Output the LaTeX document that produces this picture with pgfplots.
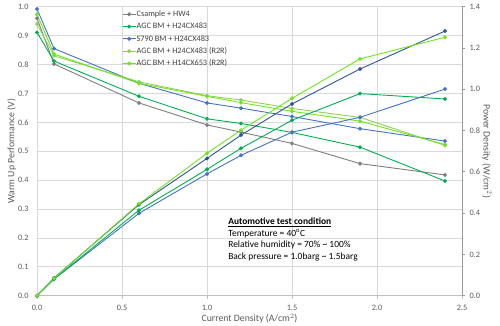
\documentclass[border=0pt]{standalone}
\usepackage{fontspec}
\setmainfont{Carlito}
\usepackage{pgfplots}
\pgfplotsset{compat=1.18}
\definecolor{cgray}{HTML}{7F7F7F}
\definecolor{cgreen}{HTML}{00B050}
\definecolor{cblue}{HTML}{4472C4}
\definecolor{cdblue}{HTML}{2F5597}
\definecolor{clgreen}{HTML}{92D050}
\definecolor{cbgreen}{HTML}{6EE61E}
\definecolor{gridc}{HTML}{D9D9D9}
\definecolor{axc}{HTML}{BFBFBF}
\definecolor{tickc}{HTML}{595959}
\definecolor{legc}{HTML}{404040}

\pgfplotstableread{
x     gv    grv   bv    lv    bgv
0.0   0.960 0.911 0.992 0.940 0.974
0.1   0.802 0.812 0.855 0.830 0.836
0.6   0.667 0.690 0.735 0.740 0.735
1.0   0.591 0.612 0.667 0.692 0.690
1.2   0.566 0.596 0.649 0.677 0.668
1.5   0.527 0.565 0.620 0.648 0.638
1.9   0.457 0.514 0.578 0.617 0.604
2.4   0.418 0.397 0.535 0.520 0.523
}\voltdata

\pgfplotstableread{
x     gp    grp   bp    bgp
0.0   0.000 0.000 0.000 0.000
0.1   0.080 0.081 0.086 0.084
0.6   0.399 0.414 0.441 0.445
1.0   0.590 0.612 0.665 0.690
1.2   0.680 0.714 0.778 0.802
1.5   0.792 0.850 0.929 0.956
1.9   0.864 0.979 1.098 1.147
2.4   1.001 0.953 1.282 1.252
}\powdata

\begin{document}
\begin{tikzpicture}
\path[use as bounding box] (0,0) rectangle (500bp,326bp);
\begin{axis}[
  at={(37bp,30.3bp)}, anchor=south west,
  scale only axis, width=425bp, height=289bp,
  xmin=0, xmax=2.5, ymin=0, ymax=1.0,
  xtick={0,0.5,...,2.5}, ytick={0,0.1,...,1.0},
  clip=false,
  axis x line*=bottom, axis y line*=left,
  x axis line style={draw=axc, line width=0.75bp, -},
  y axis line style={draw=none},
  grid=major, major grid style={draw=gridc, line width=0.75bp},
  tick align=outside,
  xtick style={draw=axc, line width=0.75bp}, major tick length=3bp,
  ytick style={draw=none},
  tick label style={font=\fontsize{8.3}{10}\selectfont, text=tickc},
  /pgf/number format/assume math mode=true,
  xticklabel={\pgfmathprintnumber[fixed,fixed zerofill,precision=1]{\tick}},
  yticklabel={\pgfmathprintnumber[fixed,fixed zerofill,precision=1]{\tick}},
  xticklabel style={yshift=-3bp},
  yticklabel style={xshift=-2bp},
  every axis plot/.append style={line width=0.9bp, mark=*, mark size=1.5bp},
  legend image code/.code={\draw[mark repeat=2,mark phase=2] plot coordinates {(0bp,0bp) (6.5bp,0bp) (13bp,0bp)};},
  legend cell align=left,
  legend style={at={(rel axis cs:0.2,0.99)}, anchor=north west, draw=none, fill=none,
     inner sep=0pt, font=\fontsize{8.3}{10}\selectfont, text=legc,
     nodes={inner sep=0.6bp, text height=6.2bp, text depth=1.6bp}, row sep=3.3bp},
]
\addplot[color=cgray, mark options={fill=cgray}] table[x=x,y=gv] {\voltdata};
\addlegendentry{Csample + HW4}
\addplot[color=cgreen, mark options={fill=cgreen}] table[x=x,y=grv] {\voltdata};
\addlegendentry{AGC BM + H24CX483}
\addplot[color=cblue, mark options={fill=cblue}] table[x=x,y=bv] {\voltdata};
\addlegendentry{S790 BM + H24CX483}
\addplot[color=clgreen, mark options={fill=clgreen}] table[x=x,y=lv] {\voltdata};
\addlegendentry{AGC BM + H24CX483 (R2R)}
\addplot[color=cbgreen, mark options={fill=cbgreen}] table[x=x,y=bgv] {\voltdata};
\addlegendentry{AGC BM + H14CX653 (R2R)}

\node[anchor=base west, inner sep=0pt, font=\fontsize{9.5}{11}\selectfont] at (axis cs:1.124,0.245) {\underline{\textbf{Automotive test condition}}};
\node[anchor=base west, inner sep=0pt, font=\fontsize{9.5}{11}\selectfont] at (axis cs:1.124,0.206) {Temperature = 40\textsuperscript{o}C};
\node[anchor=base west, inner sep=0pt, font=\fontsize{9.5}{11}\selectfont] at (axis cs:1.124,0.167) {Relative humidity = 70\% \textasciitilde{} 100\%};
\node[anchor=base west, inner sep=0pt, font=\fontsize{9.5}{11}\selectfont] at (axis cs:1.124,0.124) {Back pressure = 1.0barg \textasciitilde{} 1.5barg};
\end{axis}

\begin{axis}[
  at={(37bp,30.3bp)}, anchor=south west,
  scale only axis, width=425bp, height=289bp,
  xmin=0, xmax=2.5, ymin=0, ymax=1.4,
  ytick={0,0.2,...,1.4},
  clip=false,
  axis x line=none, axis y line*=right,
  y axis line style={draw=axc!80!black, line width=0.75bp, -},
  tick align=outside, major tick length=3bp,
  ytick style={draw=axc!80!black, line width=0.75bp},
  tick label style={font=\fontsize{8.3}{10}\selectfont, text=tickc},
  /pgf/number format/assume math mode=true,
  yticklabel={\pgfmathprintnumber[fixed,fixed zerofill,precision=1]{\tick}},
  yticklabel style={xshift=1bp},
  every axis plot/.append style={line width=0.9bp, mark=*, mark size=1.5bp},
]
\addplot[color=cblue, mark options={fill=cblue}] table[x=x,y=gp] {\powdata};
\addplot[color=cgreen, mark options={fill=cgreen}] table[x=x,y=grp] {\powdata};
\addplot[color=cdblue, mark options={fill=cdblue}] table[x=x,y=bp] {\powdata};
\addplot[color=cbgreen, mark options={fill=cbgreen}] table[x=x,y=bgp] {\powdata};
\end{axis}

\node[rotate=90, font=\fontsize{9.8}{12}\selectfont, text=tickc] at (11.5bp,174.8bp) {Warm Up Performance (V)};
\node[rotate=-90, font=\fontsize{9.8}{12}\selectfont, text=tickc] at (487bp,174.8bp) {Power Density (W/cm$^2$)};
\node[font=\fontsize{9.8}{12}\selectfont, text=tickc] at (249.5bp,7.5bp) {Current Density (A/cm$^2$)};
\end{tikzpicture}
\end{document}
